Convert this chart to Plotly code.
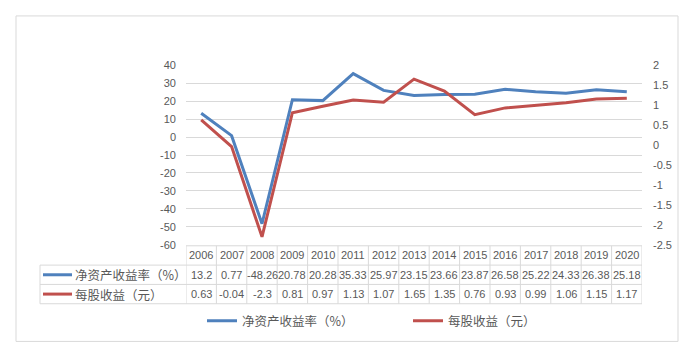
import plotly.graph_objects as go

# ---- data ----
years = ['2006', '2007', '2008', '2009', '2010', '2011', '2012', '2013',
         '2014', '2015', '2016', '2017', '2018', '2019', '2020']
roe = [13.2, 0.77, -48.26, 20.78, 20.28, 35.33, 25.97, 23.15,
       23.66, 23.87, 26.58, 25.22, 24.33, 26.38, 25.18]
eps = [0.63, -0.04, -2.3, 0.81, 0.97, 1.13, 1.07, 1.65,
       1.35, 0.76, 0.93, 0.99, 1.06, 1.15, 1.17]
roe_label = '净资产收益率（%）'
eps_label = '每股收益（元）'
left_ticks = [-60, -50, -40, -30, -20, -10, 0, 10, 20, 30, 40]
right_ticks = [-2.5, -2, -1.5, -1, -0.5, 0, 0.5, 1, 1.5, 2]

# ---- layout helpers (page body has an 8px margin) ----
OFF = 8
W, H = 690 - OFF, 359 - OFF
def px(v):
    return (v - OFF) / W
def py(v):
    return (H - (v - OFF)) / H

BLUE = '#4F81BD'
RED = '#C0504D'
GRAY_TXT = '#595959'
GRID = '#D9D9D9'
NUM_FONT = 'Liberation Sans'
CJK_FONT = 'Noto Sans CJK SC'

fig = go.Figure()
fig.add_trace(go.Scatter(x=years, y=roe, mode='lines', name=roe_label,
                         line=dict(color=BLUE, width=3), yaxis='y'))
fig.add_trace(go.Scatter(x=years, y=eps, mode='lines', name=eps_label,
                         line=dict(color=RED, width=3), yaxis='y2'))

PLOT_L, PLOT_R, PLOT_T, PLOT_B = 186, 642, 61, 247
ROW_TOP, ROW1, ROW2, ROW_BOT = 248, 268, 288, 308
LABEL_L = 40

shapes = []
# frame
shapes.append(dict(type='rect', xref='paper', yref='paper',
                   x0=px(16), x1=px(678), y0=py(347), y1=py(10),
                   line=dict(color=GRID, width=1), layer='below'))
# table horizontal lines
for yy, x0 in [(ROW_TOP, PLOT_L), (ROW1, LABEL_L), (ROW2, LABEL_L), (ROW_BOT, LABEL_L)]:
    shapes.append(dict(type='line', xref='paper', yref='paper',
                       x0=px(x0), x1=px(PLOT_R), y0=py(yy), y1=py(yy),
                       line=dict(color=GRID, width=1)))
# table vertical lines (category boundaries)
for i in range(len(years) + 1):
    shapes.append(dict(type='line', xref='x', yref='paper',
                       x0=i - 0.5, x1=i - 0.5, y0=py(ROW_TOP), y1=py(ROW_BOT),
                       line=dict(color=GRID, width=1)))
shapes.append(dict(type='line', xref='paper', yref='paper',
                   x0=px(LABEL_L), x1=px(LABEL_L), y0=py(ROW1), y1=py(ROW_BOT),
                   line=dict(color=GRID, width=1)))
# legend keys inside table
for yy, col in [((ROW1 + ROW2) / 2, BLUE), ((ROW2 + ROW_BOT) / 2, RED)]:
    shapes.append(dict(type='line', xref='paper', yref='paper',
                       x0=px(43), x1=px(72), y0=py(yy), y1=py(yy),
                       line=dict(color=col, width=3)))

annotations = []
cell_font = dict(family=NUM_FONT, size=11, color=GRAY_TXT)
for i, yr in enumerate(years):
    for yy, txt in [((ROW_TOP + ROW1) / 2, yr),
                    ((ROW1 + ROW2) / 2, f'{roe[i]:g}'),
                    ((ROW2 + ROW_BOT) / 2, f'{eps[i]:g}')]:
        annotations.append(dict(x=i, xref='x', y=py(yy), yref='paper',
                                text=txt, showarrow=False, xanchor='center', yanchor='middle',
                                font=cell_font))
for yy, lab in [((ROW1 + ROW2) / 2, roe_label), ((ROW2 + ROW_BOT) / 2, eps_label)]:
    annotations.append(dict(x=px(73), xref='paper', y=py(yy), yref='paper',
                            text=lab, showarrow=False, xanchor='left', yanchor='middle',
                            font=dict(family=CJK_FONT, size=12.5, color=GRAY_TXT)))

fig.update_layout(
    width=W, height=H, autosize=False,
    margin=dict(l=0, r=0, t=0, b=0),
    paper_bgcolor='white', plot_bgcolor='white',
    showlegend=True,
    legend=dict(orientation='h', x=px(202), xanchor='left', y=py(326), yanchor='middle',
                font=dict(family=CJK_FONT, size=12.5, color=GRAY_TXT),
                bgcolor='rgba(0,0,0,0)', itemwidth=30,
                entrywidth=161, entrywidthmode='pixels'),
    xaxis=dict(type='category', domain=[px(PLOT_L), px(PLOT_R)], range=[-0.5, len(years) - 0.5],
               showticklabels=False, showgrid=False, zeroline=False, showline=False, ticks=''),
    yaxis=dict(domain=[py(PLOT_B), py(PLOT_T)], range=[-60, 40],
               tickvals=left_ticks, ticktext=[f'{v:g}' for v in left_ticks],
               showgrid=True, gridcolor=GRID, gridwidth=1, zeroline=False, showline=False,
               ticks='', ticklabelstandoff=9,
               tickfont=dict(family=NUM_FONT, size=11, color=GRAY_TXT)),
    yaxis2=dict(overlaying='y', side='right', range=[-2.5, 2],
                tickvals=right_ticks, ticktext=[f'{v:g}' for v in right_ticks],
                showgrid=False, zeroline=False, showline=False, ticks='', ticklabelstandoff=10,
                tickfont=dict(family=NUM_FONT, size=11, color=GRAY_TXT)),
    shapes=shapes, annotations=annotations,
)

fig.write_html('out.html')
